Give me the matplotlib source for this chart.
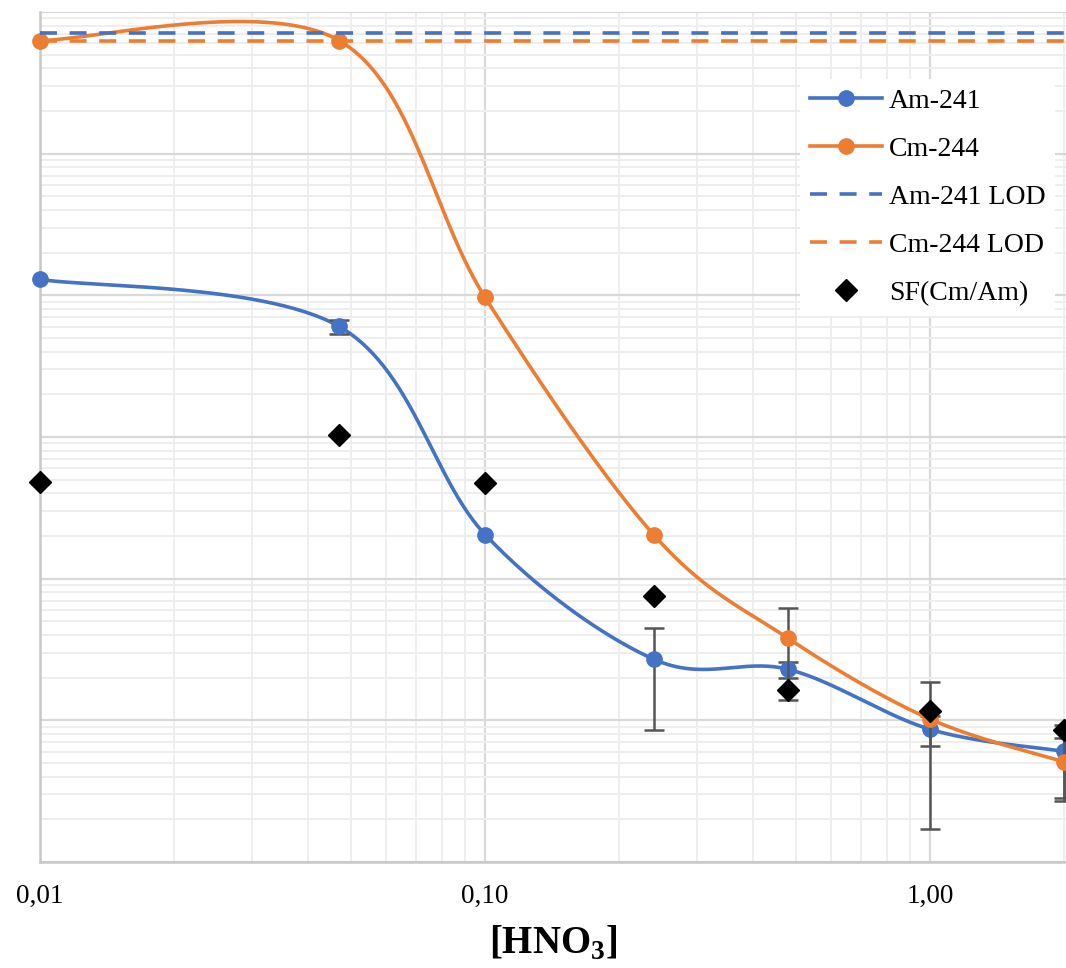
import numpy as np
import matplotlib
matplotlib.use("Agg")
import matplotlib.pyplot as plt
from matplotlib.lines import Line2D
from matplotlib.ticker import FixedLocator, LogLocator, FuncFormatter, NullFormatter

plt.rcParams["font.family"] = ["Liberation Serif", "DejaVu Serif"]
plt.rcParams["mathtext.fontset"] = "custom"
plt.rcParams["mathtext.rm"] = "Liberation Serif"
plt.rcParams["mathtext.bf"] = "Liberation Serif:bold"

# Nitric acid concentration (M)
hno3 = [0.01, 0.047, 0.10, 0.24, 0.48, 1.0, 2.0]

# Distribution ratios (0 = no error bar)
am241 = [1295, 603, 20.5, 2.69, 2.29, 0.864, 0.604]
am241_err = [0, 70, 0, 1.83, 0.30, 0.21, 0.32]
cm244 = [62900, 62900, 967, 20.2, 3.79, 1.02, 0.51]
cm244_err = [0, 0, 0, 0, 2.40, 0.85, 0.24]

# Limits of detection
am241_lod = 71600
cm244_lod = 62900

# Separation factor Cm/Am
sf_cm_am = [47.8, 104, 47.1, 7.5, 1.63, 1.16, 0.86]

BLUE = "#4472C4"
ORANGE = "#ED7D31"
ERR = "#555555"
LW = 2.6
MS = 11
DASH = (4.7, 3.5)


def smooth_curve(x, y, n=60):
    """Bezier smoothing through the points (log-log space), Excel style."""
    P = np.column_stack([np.log10(x), np.log10(y)])
    ext = np.vstack([P[0], P, P[-1]])
    t = np.linspace(0, 1, n)[:, None]
    segs = []
    for i in range(len(P) - 1):
        p0, p3 = P[i], P[i + 1]
        c1 = p0 + (ext[i + 2] - ext[i]) / 6.0
        c2 = p3 - (ext[i + 3] - ext[i + 1]) / 6.0
        seg = ((1 - t) ** 3) * p0 + 3 * ((1 - t) ** 2) * t * c1 + 3 * (1 - t) * t ** 2 * c2 + t ** 3 * p3
        segs.append(seg if i == 0 else seg[1:])
    pts = np.vstack(segs)
    return 10 ** pts[:, 0], 10 ** pts[:, 1]


def draw_errors(ax, x, y, err, z):
    x, y, err = map(np.asarray, (x, y, err))
    m = err > 0
    ax.errorbar(x[m], y[m], yerr=err[m], fmt="none", ecolor=ERR,
                elinewidth=1.8, capsize=7, capthick=1.8, zorder=z, clip_on=False)


fig = plt.figure(figsize=(10.66, 9.68), dpi=100)
ax = fig.add_axes([40 / 1066, 106 / 968, 1026 / 1066, 850 / 968])
ax.set_xscale("log")
ax.set_yscale("log")
ax.set_xlim(0.01, 2.02)
ax.set_ylim(0.1, 1e5)

# grid
ax.yaxis.set_major_locator(LogLocator(base=10, numticks=20))
ax.yaxis.set_minor_locator(LogLocator(base=10, subs=np.arange(2, 10), numticks=100))
ax.xaxis.set_major_locator(FixedLocator([0.01, 0.1, 1.0]))
ax.xaxis.set_minor_locator(LogLocator(base=10, subs=np.arange(2, 10), numticks=100))
ax.grid(True, which="major", color="#d9d9d9", lw=1.6, zorder=0)
ax.grid(True, which="minor", color="#eeeeee", lw=1.4, zorder=0)
ax.set_axisbelow(True)

ax.yaxis.set_major_formatter(NullFormatter())
ax.yaxis.set_minor_formatter(NullFormatter())
ax.xaxis.set_minor_formatter(NullFormatter())
ax.xaxis.set_major_formatter(FuncFormatter(lambda v, p: f"{v:.2f}".replace(".", ",")))
ax.tick_params(which="both", length=0)
ax.tick_params(axis="x", which="major", labelsize=19.5, pad=16, colors="black")

for s in ["top", "right"]:
    ax.spines[s].set_visible(False)
for s in ["left", "bottom"]:
    ax.spines[s].set_color("#c8c8c8")
    ax.spines[s].set_linewidth(1.8)

# Am-241
sx, sy = smooth_curve(hno3, am241)
ax.plot(sx, sy, color=BLUE, lw=LW, zorder=3, solid_capstyle="round")
draw_errors(ax, hno3, am241, am241_err, 3.5)
ax.plot(hno3, am241, "o", color=BLUE, ms=MS, zorder=4, clip_on=False)

# Cm-244
sx, sy = smooth_curve(hno3, cm244)
ax.plot(sx, sy, color=ORANGE, lw=LW, zorder=5, solid_capstyle="round")
draw_errors(ax, hno3, cm244, cm244_err, 5.5)
ax.plot(hno3, cm244, "o", color=ORANGE, ms=MS, zorder=6, clip_on=False)

# LOD lines
ax.axhline(am241_lod, color=BLUE, lw=LW, dashes=DASH, zorder=7)
ax.axhline(cm244_lod, color=ORANGE, lw=LW, dashes=DASH, zorder=7)

# Separation factor
ax.plot(hno3, sf_cm_am, linestyle="none", marker="D", color="black", ms=MS,
        zorder=8, clip_on=False)

ax.set_xlabel(r"[HNO$_{\mathbf{3}}$]", fontsize=28, fontweight="bold", labelpad=11)

handles = [
    Line2D([], [], color=BLUE, lw=LW, marker="o", ms=MS),
    Line2D([], [], color=ORANGE, lw=LW, marker="o", ms=MS),
    Line2D([], [], color=BLUE, lw=LW, dashes=DASH),
    Line2D([], [], color=ORANGE, lw=LW, dashes=DASH),
    Line2D([], [], color="black", linestyle="none", marker="D", ms=MS),
]
labels = ["Am-241", "Cm-244", "Am-241 LOD", "Cm-244 LOD", "SF(Cm/Am)"]
leg = fig.legend(handles, labels, loc="upper left",
                 bbox_to_anchor=(800 / 1066, 1 - 79 / 968),
                 fontsize=20, frameon=True, facecolor="white", edgecolor="none",
                 framealpha=1.0, fancybox=False, handlelength=2.6,
                 handletextpad=0.25, labelspacing=0.81, borderpad=0.35,
                 borderaxespad=0)
leg.set_zorder(20)

fig.savefig("out.png", dpi=100)
